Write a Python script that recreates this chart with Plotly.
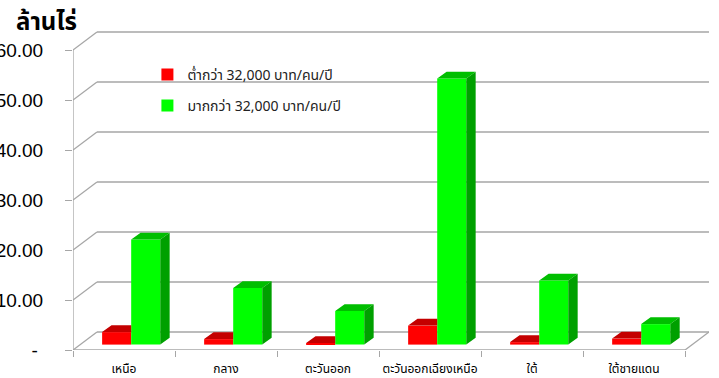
import plotly.graph_objects as go

# ---- data ----
categories = ["เหนือ", "กลาง", "ตะวันออก", "ตะวันออกเฉียงเหนือ", "ใต้", "ใต้ชายแดน"]
series_names = ["ต่ำกว่า 32,000 บาท/คน/ปี", "มากกว่า 32,000 บาท/คน/ปี"]
low_vals = [2.5, 1.1, 0.3, 3.8, 0.5, 1.2]
high_vals = [21.0, 11.3, 6.7, 53.2, 12.8, 4.1]
y_tickvals = [0, 10, 20, 30, 40, 50, 60]
y_ticktext = ["-\u00a0", "10.00", "20.00", "30.00", "40.00", "50.00", "60.00"]
y_title = "ล้านไร่"

# ---- geometry / style ----
W, H = 719, 378
L, R, T, B = 73, 10, 30, 28
DX, DY = 0.235, 3.6          # full depth offset of the back wall (data units)
FRAC = 0.3                   # depth position of bar front faces
BW = 0.285                   # bar width
DDX, DDY = 0.092, 1.35       # bar depth
n = len(categories)
xmin, xmax = -0.5, n - 0.5
YMAX = 64
GRID = "#A6A6A6"
RED, RED_D = "#FF0000", "#C40000"
GRN, GRN_T, GRN_S = "#00FF00", "#00BE00", "#00A000"
THAI = "Tahoma, 'Noto Sans Thai', 'Noto Sans', 'DejaVu Sans', sans-serif"
PW, PH = W - L - R, H - T - B

base = FRAC * DY
xoff = FRAC * DX
x_low = [i + xoff - BW / 2 for i in range(n)]
x_high = [i + xoff + BW / 2 for i in range(n)]

fig = go.Figure()

# front faces
fig.add_trace(go.Bar(x=x_low, y=low_vals, base=base, width=BW, name=series_names[0],
                     marker=dict(color=RED, line=dict(width=0)), legendgroup="a"))
fig.add_trace(go.Bar(x=x_high, y=high_vals, base=base, width=BW, name=series_names[1],
                     marker=dict(color=GRN, line=dict(width=0)), legendgroup="b"))

def faces(xc, vals, with_side):
    tx, ty, sx, sy = [], [], [], []
    for c, v in zip(xc, vals):
        x0, x1 = c - BW / 2, c + BW / 2
        t = base + v
        if with_side:
            tx += [x0, x1, x1 + DDX, x0 + DDX, x0, None]
            ty += [t, t, t + DDY, t + DDY, t, None]
            sx += [x1, x1 + DDX, x1 + DDX, x1, x1, None]
            sy += [base, base + DDY, t + DDY, t, base, None]
        else:
            tx += [x0, x1, x1, x0 + DDX, x0, None]
            ty += [t, t, t + DDY, t + DDY, t, None]
    return tx, ty, sx, sy

tx, ty, _, _ = faces(x_low, low_vals, False)
fig.add_trace(go.Scatter(x=tx, y=ty, fill="toself", fillcolor=RED_D, mode="lines",
                         line=dict(width=0, color=RED_D), showlegend=False, hoverinfo="skip"))
tx, ty, sx, sy = faces(x_high, high_vals, True)
fig.add_trace(go.Scatter(x=tx, y=ty, fill="toself", fillcolor=GRN_T, mode="lines",
                         line=dict(width=0, color=GRN_T), showlegend=False, hoverinfo="skip"))
fig.add_trace(go.Scatter(x=sx, y=sy, fill="toself", fillcolor=GRN_S, mode="lines",
                         line=dict(width=0, color=GRN_S), showlegend=False, hoverinfo="skip"))

# walls / grid
shapes = []
def ln(x0, y0, x1, y1):
    shapes.append(dict(type="line", xref="x", yref="y", x0=x0, y0=y0, x1=x1, y1=y1,
                       layer="below", line=dict(color=GRID, width=1.3)))
for v in y_tickvals:
    ln(xmin, v, xmin + DX, v + DY)
    ln(xmin + DX, v + DY, xmax + DX, v + DY)
ln(xmin, 0, xmin, y_tickvals[-1])
ln(xmin, 0, xmax, 0)
ln(xmax, 0, xmax + DX, DY)

fig.update_layout(
    width=W, height=H,
    margin=dict(l=L, r=R, t=T, b=B, autoexpand=False),
    paper_bgcolor="white", plot_bgcolor="white",
    barmode="overlay",
    shapes=shapes,
    showlegend=True,
    legend=dict(x=0.117, y=0.91, xanchor="left", yanchor="top",
                bgcolor="rgba(0,0,0,0)", font=dict(family=THAI, size=14, color="#222"),
                tracegroupgap=10, traceorder="grouped", itemwidth=30),
    xaxis=dict(range=[xmin, xmax + DX], showgrid=False, zeroline=False, showline=False,
               tickmode="array", tickvals=list(range(n)), ticktext=categories,
               ticks="", ticklabelstandoff=10,
               tickfont=dict(family=THAI, size=12, color="black"),
               minor=dict(tickmode="array", tickvals=[xmin + k for k in range(n + 1)],
                          ticks="outside", ticklen=6, tickcolor=GRID, tickwidth=1.3, showgrid=False)),
    yaxis=dict(range=[0, YMAX], showgrid=False, zeroline=False, showline=False,
               tickmode="array", tickvals=y_tickvals, ticktext=y_ticktext,
               ticks="outside", ticklen=7, tickcolor=GRID, tickwidth=1.3,
               ticklabelstandoff=18,
               tickfont=dict(family="'Liberation Sans', Arial, sans-serif", size=19, color="black")),
    annotations=[dict(text="<b>" + y_title + "</b>", xref="paper", yref="paper",
                      x=(14 - L) / PW, y=1 + 7 / PH,
                      xanchor="left", yanchor="middle", showarrow=False,
                      font=dict(family=THAI, size=24, color="black"))],
)

fig.write_html("out.html")
